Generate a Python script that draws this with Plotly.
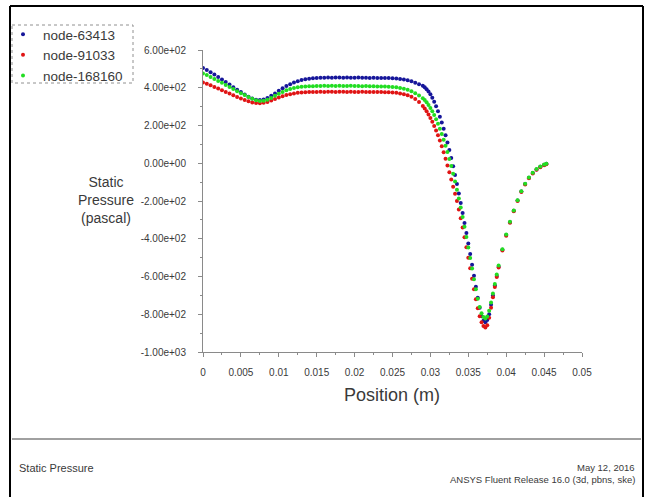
import plotly.graph_objects as go

# ---------------- data ----------------
positions = [
    0.0, 0.0005, 0.001, 0.0015, 0.002, 0.0025, 0.003, 0.0035, 0.004, 0.0045,
    0.005, 0.0055, 0.006, 0.0065, 0.007, 0.0075, 0.008, 0.0085, 0.009, 0.0095,
    0.010, 0.0105, 0.011, 0.0115, 0.012, 0.0125, 0.013, 0.0135, 0.014, 0.0145,
    0.015, 0.0155, 0.016, 0.0165, 0.017, 0.0175, 0.018, 0.0185, 0.019, 0.0195,
    0.020, 0.0205, 0.021, 0.0215, 0.022, 0.0225, 0.023, 0.0235, 0.024, 0.0245,
    0.025, 0.0255, 0.026, 0.0265, 0.027, 0.0275, 0.028, 0.0285, 0.029,
    0.02925, 0.0295, 0.02975, 0.030, 0.03025, 0.0305, 0.03075, 0.031, 0.03125, 0.0315,
    0.03175, 0.032, 0.03225, 0.0325, 0.03275, 0.033, 0.03325, 0.0335, 0.03375, 0.034,
    0.03425, 0.0345, 0.03475, 0.035, 0.03525, 0.0355, 0.03575, 0.036, 0.03625, 0.0365,
    0.03675, 0.037, 0.03725, 0.0375, 0.03775, 0.038, 0.03825, 0.0385, 0.03875, 0.039,
    0.0395, 0.040, 0.0405, 0.041, 0.0415, 0.042, 0.0425, 0.043, 0.0435, 0.044,
    0.0445, 0.045, 0.0453,
]

node_63413 = [
    505, 494, 482, 470, 457, 444, 431, 417, 403, 390,
    377, 364, 352, 343, 337, 335, 338, 346, 357, 370,
    384, 397, 409, 419, 428, 435, 441, 445, 448, 450,
    452, 453, 453, 454, 453, 454, 454, 453, 454, 453,
    453, 454, 453, 453, 452, 453, 452, 452, 451, 451,
    450, 449, 447, 444, 440, 434, 426, 418, 410,
    402, 392, 380, 365, 347, 326, 302, 276, 247, 216,
    183, 148, 110, 70, 28, -16, -62, -110, -160, -211,
    -263, -316, -370, -425, -481, -538, -596, -654, -712, -766,
    -810, -835, -842, -830, -800, -750, -700, -648, -597, -548,
    -458, -380, -312, -252, -198, -150, -110, -77, -52, -33,
    -19, -9, -3,
]

node_91033 = [
    428, 421, 413, 404, 396, 387, 378, 369, 360, 351,
    343, 335, 328, 322, 319, 318, 320, 325, 332, 340,
    348, 355, 361, 366, 370, 373, 375, 376, 377, 378,
    378, 379, 378, 379, 379, 378, 379, 379, 378, 379,
    378, 378, 379, 378, 378, 377, 378, 377, 376, 376,
    375, 373, 370, 366, 360, 352, 340, 324, 303,
    290, 275, 258, 240, 220, 198, 174, 148, 120, 90,
    58, 24, -12, -48, -86, -125, -162, -200, -245, -292,
    -341, -392, -445, -500, -556, -612, -667, -720, -768, -810,
    -843, -862, -870, -858, -818, -765, -710, -655, -602, -552,
    -462, -384, -315, -254, -200, -152, -112, -79, -54, -35,
    -21, -11, -5,
]

node_168160 = [
    476, 467, 457, 447, 436, 426, 415, 404, 393, 382,
    371, 361, 351, 342, 334, 330, 331, 337, 346, 357,
    368, 378, 387, 394, 399, 403, 405, 407, 408, 408,
    409, 409, 410, 409, 410, 409, 410, 409, 409, 410,
    409, 409, 408, 409, 408, 408, 407, 407, 406, 405,
    404, 402, 399, 395, 389, 381, 371, 359, 345,
    335, 323, 309, 293, 275, 255, 233, 209, 183, 155,
    125, 93, 59, 23, -15, -55, -97, -141, -187, -235,
    -285, -337, -391, -446, -502, -558, -614, -668, -718, -762,
    -795, -815, -822, -812, -782, -738, -690, -640, -590, -542,
    -455, -378, -310, -250, -196, -148, -108, -75, -50, -31,
    -17, -7, -2,
]

series_names = ["node-63413", "node-91033", "node-168160"]
series_values = [node_63413, node_91033, node_168160]
series_colors = ["#16169a", "#e01414", "#22dd22"]

x_ticks = [0, 0.005, 0.01, 0.015, 0.02, 0.025, 0.03, 0.035, 0.04, 0.045, 0.05]
x_tick_text = ["0", "0.005", "0.01", "0.015", "0.02", "0.025", "0.03", "0.035", "0.04", "0.045", "0.05"]
y_ticks = [600, 400, 200, 0, -200, -400, -600, -800, -1000]
y_tick_text = ["6.00e+02", "4.00e+02", "2.00e+02", "0.00e+00", "-2.00e+02",
               "-4.00e+02", "-6.00e+02", "-8.00e+02", "-1.00e+03"]

# ---------------- layout helpers (pixels -> paper) ----------------
W, H = 646, 497
ML, MR, MT, MB = 203, 64, 50, 145
PW, PH = W - ML - MR, H - MT - MB


def px(x):
    return (x - ML) / PW


def py(y):
    return (H - MB - y) / PH


FONT = "Liberation Sans, Arial, sans-serif"
TXT = "#3a3a3a"
AX = "#8a8a8a"

fig = go.Figure()
for name, vals, col in zip(series_names, series_values, series_colors):
    fig.add_trace(go.Scatter(
        x=positions, y=vals, mode="markers", name=name,
        marker=dict(color=col, size=4, line=dict(width=0)),
    ))

fig.update_layout(
    width=W, height=H,
    margin=dict(l=ML, r=MR, t=MT, b=MB, pad=0, autoexpand=False),
    paper_bgcolor="white", plot_bgcolor="white",
    font=dict(family=FONT, color=TXT),
    showlegend=True,
    legend=dict(
        x=px(3), y=py(19), xanchor="left", yanchor="top",
        bgcolor="rgba(0,0,0,0)", borderwidth=0,
        font=dict(size=13.5, color=TXT, family=FONT),
        itemsizing="trace", tracegroupgap=0,
    ),
    xaxis=dict(
        range=[0, 0.05], tickmode="array", tickvals=x_ticks, ticktext=x_tick_text,
        showline=True, linecolor=AX, linewidth=1, mirror=False,
        ticks="outside", ticklen=4, tickcolor=AX, tickwidth=1,
        minor=dict(tickmode="linear", tick0=0, dtick=0.0025, ticks="outside",
                   ticklen=2, tickcolor=AX),
        showgrid=False, zeroline=False,
        tickfont=dict(size=10, color=TXT, family=FONT),
        ticklabelstandoff=7,
    ),
    yaxis=dict(
        range=[-1000, 600], tickmode="array", tickvals=y_ticks, ticktext=y_tick_text,
        showline=True, linecolor=AX, linewidth=1, mirror=False,
        ticks="outside", ticklen=4, tickcolor=AX, tickwidth=1,
        minor=dict(tickmode="linear", tick0=0, dtick=100, ticks="outside",
                   ticklen=2, tickcolor=AX),
        showgrid=False, zeroline=False,
        tickfont=dict(size=10, color=TXT, family=FONT),
        ticklabelstandoff=10,
    ),
)

shapes = [
    # outer black frame (top, left, right)
    dict(type="line", xref="paper", yref="paper", x0=px(10), x1=px(643), y0=py(6), y1=py(6),
         line=dict(color="black", width=2)),
    dict(type="line", xref="paper", yref="paper", x0=px(10), x1=px(10), y0=py(6), y1=py(497),
         line=dict(color="black", width=2)),
    dict(type="line", xref="paper", yref="paper", x0=px(643), x1=px(643), y0=py(6), y1=py(497),
         line=dict(color="black", width=2)),
    # footer separator
    dict(type="line", xref="paper", yref="paper", x0=px(12), x1=px(641), y0=py(439), y1=py(439),
         line=dict(color="#a0a0a0", width=2)),
    # legend box (dotted)
    dict(type="rect", xref="paper", yref="paper", x0=px(12), x1=px(133), y0=py(25), y1=py(83),
         line=dict(color="#909090", width=1, dash="dot")),
]
fig.update_layout(shapes=shapes)

annos = [
    dict(text="Position (m)", x=px(392), y=py(395), xref="paper", yref="paper",
         showarrow=False, xanchor="center", yanchor="middle",
         font=dict(size=18, color=TXT, family=FONT)),
    dict(text="Static<br>Pressure<br>(pascal)", x=px(136), y=py(200), xref="paper", yref="paper",
         showarrow=False, xanchor="right", yanchor="middle", align="center",
         font=dict(size=14, color=TXT, family=FONT)),
    dict(text="Static Pressure", x=px(17), y=py(468), xref="paper", yref="paper",
         showarrow=False, xanchor="left", yanchor="middle",
         font=dict(size=11, color=TXT, family=FONT)),
    dict(text="May 12, 2016", x=px(637), y=py(467), xref="paper", yref="paper",
         showarrow=False, xanchor="right", yanchor="middle",
         font=dict(size=9.5, color=TXT, family=FONT)),
    dict(text="ANSYS Fluent Release 16.0 (3d, pbns, ske)", x=px(637), y=py(479),
         xref="paper", yref="paper", showarrow=False, xanchor="right", yanchor="middle",
         font=dict(size=9.5, color=TXT, family=FONT)),
]
fig.update_layout(annotations=annos)

fig.write_html("out.html", config={"displayModeBar": False},
               post_script="document.body.style.margin='0';")
